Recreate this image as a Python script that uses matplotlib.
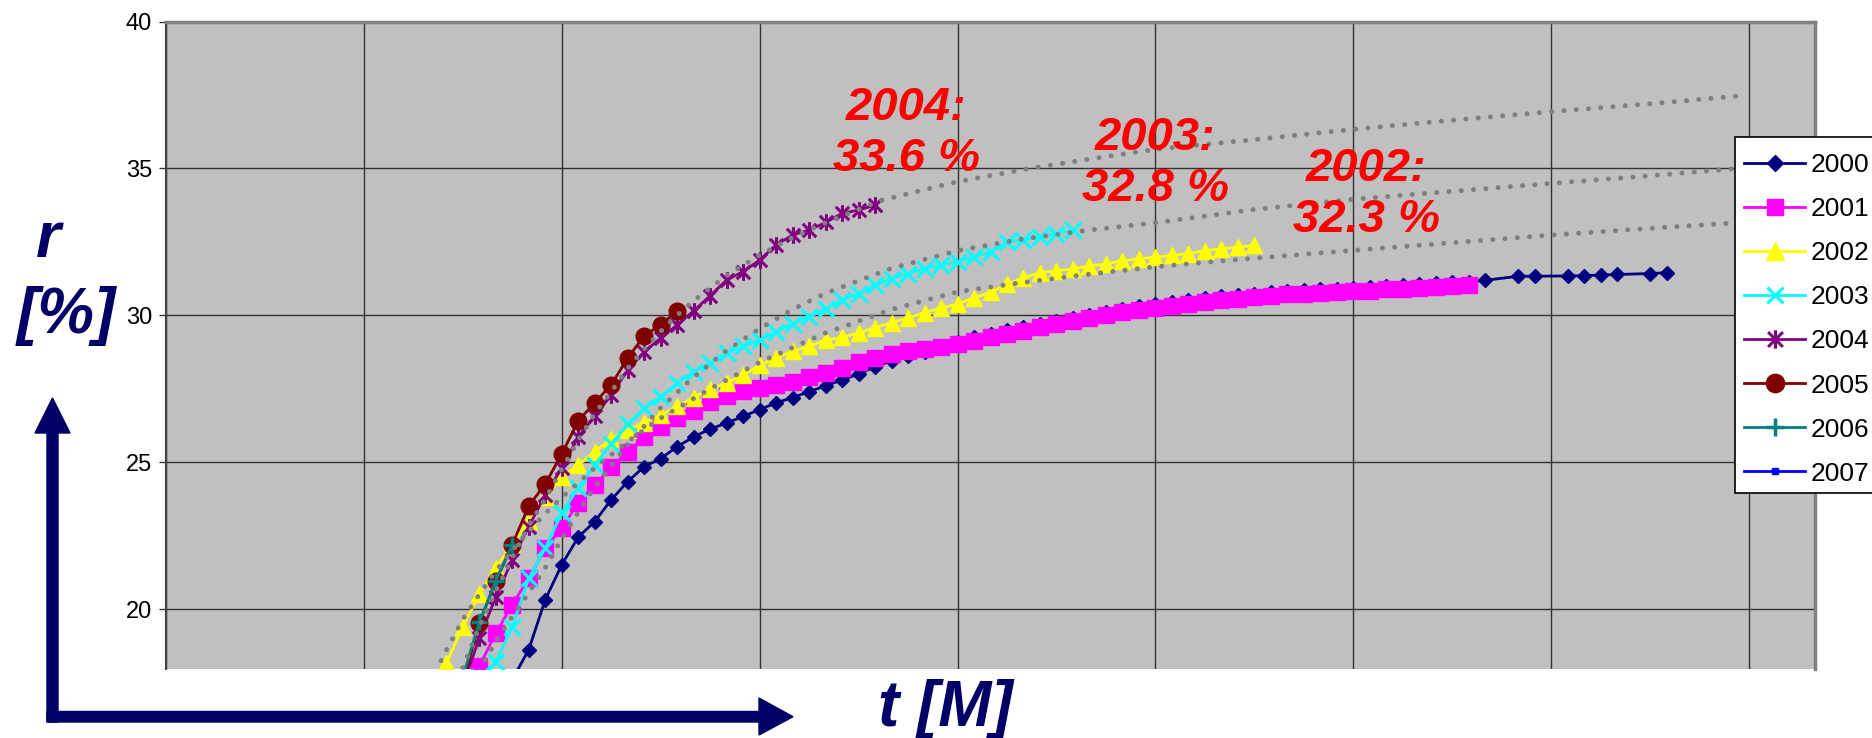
import matplotlib
matplotlib.use("Agg")
import matplotlib.pyplot as plt
from matplotlib.path import Path
from matplotlib.patches import Polygon, Rectangle

# values: month index (t) and r [%] per year
m_2000 = list(range(21, 81)) + [82, 83, 85, 86, 87, 88, 90, 91]
r_2000 = [17.6, 18.62, 20.32, 21.51, 22.45, 22.98, 23.72, 24.34, 24.85, 25.12,
          25.53, 25.86, 26.13, 26.33, 26.56, 26.79, 27.02, 27.2, 27.4, 27.6,
          27.8, 28.0, 28.25, 28.45, 28.6, 28.75, 28.9, 29.08, 29.25, 29.37,
          29.49, 29.6, 29.72, 29.82, 29.92, 30.02, 30.12, 30.22, 30.3, 30.38,
          30.45, 30.52, 30.58, 30.64, 30.69, 30.74, 30.79, 30.83, 30.86, 30.89,
          30.91, 30.93, 30.96, 31.0, 31.03, 31.06, 31.09, 31.12, 31.14, 31.19,
          31.33, 31.33, 31.34, 31.35, 31.37, 31.39, 31.42, 31.45]

m_2001 = list(range(18, 80))
r_2001 = [16.6, 18.05, 19.18, 20.15, 21.05, 22.07, 22.76, 23.61, 24.23, 24.83,
          25.36, 25.84, 26.2, 26.5, 26.75, 27.05, 27.26, 27.43, 27.52, 27.63,
          27.74, 27.9, 28.05, 28.2, 28.4, 28.55, 28.68, 28.78, 28.86, 28.93,
          29.02, 29.13, 29.25, 29.37, 29.48, 29.6, 29.7, 29.8, 29.9, 30.0,
          30.1, 30.18, 30.26, 30.33, 30.4, 30.46, 30.52, 30.57, 30.62, 30.67,
          30.71, 30.74, 30.77, 30.79, 30.81, 30.84, 30.88, 30.91, 30.94, 30.97,
          31.0, 31.02]

m_2002 = list(range(16, 67))
r_2002 = [16.5, 18.15, 19.4, 20.5, 21.4, 22.2, 23.0, 23.8, 24.5, 24.9,
          25.36, 25.8, 26.1, 26.35, 26.6, 26.9, 27.2, 27.5, 27.7, 27.97,
          28.3, 28.55, 28.78, 28.95, 29.15, 29.25, 29.4, 29.58, 29.75, 29.92,
          30.08, 30.25, 30.38, 30.6, 30.78, 31.05, 31.28, 31.45, 31.52, 31.58,
          31.68, 31.75, 31.86, 31.92, 31.98, 32.04, 32.1, 32.2, 32.26, 32.32,
          32.38]

m_2003 = list(range(19, 56))
r_2003 = [17.7, 18.2, 19.4, 21.05, 22.07, 23.27, 24.12, 24.91, 25.62, 26.3,
          26.84, 27.23, 27.69, 28.08, 28.37, 28.71, 28.94, 29.16, 29.43, 29.72,
          29.94, 30.23, 30.51, 30.74, 31.02, 31.25, 31.42, 31.59, 31.7, 31.82,
          31.99, 32.16, 32.5, 32.56, 32.67, 32.78, 32.9]

m_2004 = list(range(18, 44))
r_2004 = [17.4, 19.01, 20.4, 21.68, 22.81, 23.89, 24.8, 25.86, 26.57, 27.29,
          28.14, 28.76, 29.22, 29.67, 30.15, 30.67, 31.2, 31.49, 31.88, 32.4,
          32.73, 32.9, 33.16, 33.47, 33.58, 33.75]

m_2005 = list(range(18, 32))
r_2005 = [17.5, 19.52, 20.96, 22.19, 23.51, 24.26, 25.28, 26.41, 27.02, 27.64,
          28.54, 29.31, 29.67, 30.15]

m_2006 = [18, 19, 20, 21]
r_2006 = [17.7, 19.55, 20.96, 22.19]

m_2007 = []
r_2007 = []

# dotted trend lines (2002, 2003, 2004)
trend_2002_m = [16, 17, 18, 19, 20, 21, 22, 23, 24, 26, 28, 30, 33, 36, 40, 44,
                48, 52, 56, 60, 64, 68, 72, 78, 84, 90, 95.3]
trend_2002_r = [17.5, 18.6, 19.65, 20.5, 21.3, 22.0, 22.65, 23.25, 23.8, 24.8,
                25.7, 26.5, 27.5, 28.4, 29.4, 30.2, 30.8, 31.12, 31.4, 31.65,
                31.85, 32.03, 32.21, 32.47, 32.73, 32.96, 33.15]
trend_2003_m = [19, 20, 21, 22, 23, 24, 25, 26, 28, 30, 32, 34, 36, 38, 40, 44,
                48, 52, 56, 60, 66, 72, 78, 84, 90, 95.3]
trend_2003_r = [17.9, 18.9, 19.75, 20.55, 21.4, 22.4, 23.3, 24.15, 25.6, 26.85,
                27.9, 28.8, 29.55, 30.2, 30.75, 31.6, 32.2, 32.6, 32.9, 33.15,
                33.6, 33.95, 34.22, 34.49, 34.75, 35.0]
trend_2004_m = [18, 19, 20, 21, 22, 23, 24, 25, 26, 27, 28, 29, 30, 31, 32, 34,
                36, 38, 40, 43.3, 48, 52.4, 57, 60, 66, 72, 78, 84, 90, 95.3]
trend_2004_r = [18.0, 19.4, 20.6, 21.75, 22.85, 23.75, 24.75, 25.75, 26.65, 27.4,
                28.2, 28.85, 29.45, 30.0, 30.5, 31.35, 32.05, 32.65, 33.15, 33.9,
                34.55, 35.0, 35.4, 35.65, 35.98, 36.33, 36.64, 36.93, 37.2, 37.46]

labels = ["2000", "2001", "2002", "2003", "2004", "2005", "2006", "2007"]
notes = ["2004:\n33.6 %", "2003:\n32.8 %", "2002:\n32.3 %"]
note_m = [44.9, 60.0, 72.8]
note_r = [36.2, 35.18, 34.1]

W, H = 1872, 738
NAVY = "#000066"

star = Path([(-0.5, -0.5), (0.5, 0.5), (-0.5, 0.5), (0.5, -0.5), (0, -0.62), (0, 0.62)],
            [Path.MOVETO, Path.LINETO] * 3)

series = [
    (m_2000, r_2000, "#000080", "D", 7.2, 1),
    (m_2001, r_2001, "#FF00FF", "s", 11, 1),
    (m_2002, r_2002, "#FFFF00", "^", 12, 1),
    (m_2003, r_2003, "#00FFFF", "x", 11, 2.2),
    (m_2004, r_2004, "#800080", star, 12, 2.2),
    (m_2005, r_2005, "#800000", "o", 12, 1),
    (m_2006, r_2006, "#008080", "+", 12, 2.5),
    (m_2007, r_2007, "#0000FF", "s", 4, 1),
]

plt.rcParams["font.family"] = ["Liberation Sans", "DejaVu Sans"]


def fx(x):
    return x / W


def fy(y):
    return 1 - y / H


fig = plt.figure(figsize=(W / 100, H / 100), dpi=100)
ax = fig.add_axes([fx(166), fy(669), (1815 - 166) / W, (669 - 21.5) / H])
ax.set_facecolor("#C0C0C0")

lines = []
for (m, r, col, mk, ms, mew), lab in zip(series, labels):
    ln, = ax.plot(m, r, color=col, lw=2.0, marker=mk, ms=ms, mfc=col, mec=col,
                  mew=mew, label=lab, zorder=3)
    lines.append(ln)

for tm, tr in [(trend_2002_m, trend_2002_r), (trend_2003_m, trend_2003_r),
               (trend_2004_m, trend_2004_r)]:
    ax.plot(tm, tr, color="#808080", lw=3.6, linestyle=(0, (0.01, 2.45)),
            dash_capstyle="round", zorder=4)

for txt, m, r in zip(notes, note_m, note_r):
    ax.text(m, r, txt, color="#FF0000", fontsize=34, fontweight="bold",
            fontstyle="italic", ha="center", va="center", multialignment="center",
            linespacing=1.2, zorder=6)

ax.set_xlim(0, 100)
ax.set_ylim(17.96, 40)
ax.set_xticks(range(0, 97, 12))
ax.set_xticklabels([])
ax.set_yticks([20, 25, 30, 35, 40])
ax.tick_params(axis="x", length=0)
ax.tick_params(axis="y", length=5, width=1, color="#333333", labelsize=17,
               pad=5, direction="out")
ax.grid(True, color="#333333", lw=1.0)
ax.set_axisbelow(True)
ax.spines["bottom"].set_visible(False)
ax.spines["left"].set_color("#404040")
ax.spines["left"].set_linewidth(1.5)
for s in ["top", "right"]:
    ax.spines[s].set_color("#808080")
    ax.spines[s].set_linewidth(2.5)

# legend box runs past the right edge of the picture
fig.add_artist(Rectangle((fx(1735), fy(493)), (1900 - 1735) / W, (493 - 137) / H,
                         transform=fig.transFigure, facecolor="white",
                         edgecolor="black", lw=1.2, zorder=4))
fig.legend(lines, labels, loc="upper left", bbox_to_anchor=(fx(1735), fy(144)),
           frameon=False, fontsize=19, handlelength=2.3, handletextpad=0.2,
           borderpad=0.35, borderaxespad=0, labelspacing=0.76, markerscale=1.1)

# axis arrows
arrow_v = [(47, 722), (47, 433), (35, 433), (52.5, 398), (70, 433), (58, 433), (58, 722)]
arrow_h = [(47, 722), (47, 711.5), (759, 711.5), (759, 698), (793, 716.7), (759, 735), (759, 722)]
for pts in (arrow_v, arrow_h):
    fig.add_artist(Polygon([(fx(x), fy(y)) for x, y in pts], closed=True,
                           transform=fig.transFigure, facecolor=NAVY, edgecolor=NAVY))

big = dict(color=NAVY, fontsize=46, fontweight="bold", fontstyle="italic")
fig.text(fx(48), fy(257), "r", ha="center", va="baseline", **big)
fig.text(fx(66), fy(316), "[%]", ha="center", va="center", **big)
fig.text(fx(945), fy(709), "t [M]", ha="center", va="center", **big)

fig.savefig("out.png", dpi=100)
